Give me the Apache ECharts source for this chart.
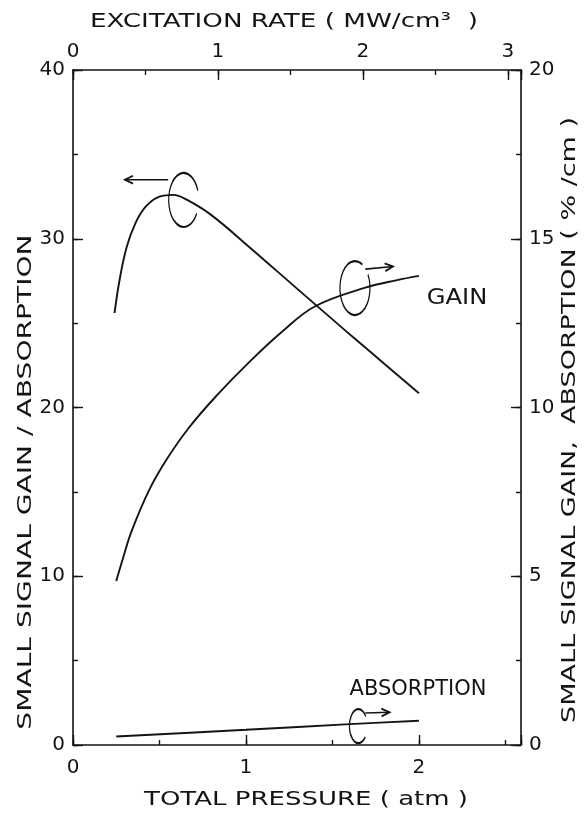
<!DOCTYPE html>
<html>
<head>
<meta charset="utf-8">
<script src="https://cdn.jsdelivr.net/npm/echarts@6/dist/echarts.min.js"></script>
<style>
  html, body { margin: 0; padding: 0; background: #fff; }
  #chart { width: 584px; height: 813px; }
</style>
</head>
<body>
<div id="chart"></div>
<script>
// Gain / absorption ratio vs total pressure (left axis)
const ratioPressure = [0.24, 0.27, 0.31, 0.36, 0.42, 0.50, 0.58, 0.66, 0.80, 1.02, 1.30, 1.57, 1.69, 2.00];
const ratioValues   = [25.6, 27.6, 29.5, 30.9, 31.9, 32.5, 32.6, 32.3, 31.4, 29.5, 27.0, 24.6, 23.55, 20.85];

// Small signal gain, %/cm (right axis)
const gainPressure = [0.25, 0.29, 0.34, 0.44, 0.54, 0.67, 0.83, 1.02, 1.21, 1.40, 1.69, 1.88, 2.00];
const gainValues   = [4.86, 5.55, 6.35, 7.55, 8.45, 9.40, 10.35, 11.35, 12.25, 13.0, 13.55, 13.78, 13.9];

// Absorption, %/cm (right axis)
const absPressure = [0.25, 1.00, 1.60, 2.00];
const absValues   = [0.25, 0.45, 0.62, 0.72];

// Axis ranges
const pressureMax = 2.59;     // atm
const excitationMax = 3.09;   // MW/cm3
const ratioMax = 40;
const percentMax = 20;

const pressureTitle = 'TOTAL PRESSURE ( atm )';
const excitationTitle = 'EXCITATION RATE ( MW/cm\u00B3  )';
const leftTitle = 'SMALL SIGNAL GAIN / ABSORPTION';
const rightTitle = 'SMALL SIGNAL GAIN,  ABSORPTION ( % /cm )';

const ink = '#141414';
const FONT = '"DejaVu Sans", "Liberation Sans", sans-serif';

const chart = echarts.init(document.getElementById('chart'), null, { renderer: 'canvas' });

function stepLabel(step) {
  return function (v) {
    const k = v / step;
    return Math.abs(k - Math.round(k)) < 1e-6 ? String(Math.round(v * 100) / 100) : '';
  };
}
function pairs(xs, ys) { return xs.map((x, i) => [x, ys[i]]); }

const labelStyle = { color: ink, fontFamily: FONT, fontSize: 20 };

function mainAxis(cfg) {
  return Object.assign({
    type: 'value',
    splitLine: { show: false },
    axisLine: { show: true, onZero: false, lineStyle: { color: ink, width: 1.6 } },
    axisTick: { show: true, inside: true, length: 5, lineStyle: { color: ink, width: 1.4 } }
  }, cfg, {
    axisLabel: Object.assign({ showMinLabel: true, showMaxLabel: true }, labelStyle, cfg.axisLabel || {})
  });
}
function tickAxis(cfg) {
  return Object.assign({
    type: 'value',
    splitLine: { show: false },
    axisLine: { show: false, onZero: false },
    axisTick: { show: true, inside: true, length: 10, lineStyle: { color: ink, width: 1.4 } },
    axisLabel: { show: false }
  }, cfg);
}

const option = {
  animation: false,
  backgroundColor: '#ffffff',
  grid: { left: 73, right: 63, top: 70, bottom: 68, containLabel: false },
  xAxis: [
    mainAxis({ position: 'bottom', min: 0, max: pressureMax, interval: 0.5,
               axisLabel: { formatter: stepLabel(1), margin: 13 } }),
    tickAxis({ position: 'bottom', min: 0, max: pressureMax, interval: 1 }),
    mainAxis({ position: 'top', min: 0, max: excitationMax, interval: 0.5,
               axisLabel: { formatter: stepLabel(1), margin: 8 } }),
    tickAxis({ position: 'top', min: 0, max: excitationMax, interval: 1 })
  ],
  yAxis: [
    mainAxis({ position: 'left', min: 0, max: ratioMax, interval: 5,
               axisLabel: { formatter: stepLabel(10), margin: 8 } }),
    tickAxis({ position: 'left', min: 0, max: ratioMax, interval: 10 }),
    mainAxis({ position: 'right', min: 0, max: percentMax, interval: 2.5,
               axisLabel: { formatter: stepLabel(5), margin: 8 } }),
    tickAxis({ position: 'right', min: 0, max: percentMax, interval: 5 })
  ],
  series: [
    { name: 'ratio', type: 'line', xAxisIndex: 0, yAxisIndex: 0, data: pairs(ratioPressure, ratioValues),
      smooth: 0.4, showSymbol: false, silent: true, lineStyle: { color: ink, width: 1.9 } },
    { name: 'gain', type: 'line', xAxisIndex: 0, yAxisIndex: 2, data: pairs(gainPressure, gainValues),
      smooth: 0.4, showSymbol: false, silent: true, lineStyle: { color: ink, width: 1.9 } },
    { name: 'absorption', type: 'line', xAxisIndex: 0, yAxisIndex: 2, data: pairs(absPressure, absValues),
      smooth: 0.3, showSymbol: false, silent: true, lineStyle: { color: ink, width: 1.9 } }
  ]
};
chart.setOption(option);

// ---- titles and curve annotations -------------------------------------
const toLeft = (p, v) => chart.convertToPixel({ xAxisIndex: 0, yAxisIndex: 0 }, [p, v]);
const toRight = (p, v) => chart.convertToPixel({ xAxisIndex: 0, yAxisIndex: 2 }, [p, v]);

function label(text, x, y, size, opts) {
  opts = opts || {};
  return {
    type: 'text', x: x, y: y, rotation: opts.rotation || 0,
    scaleX: opts.stretch || 1, silent: true,
    style: { text: text, fill: ink, font: size + 'px ' + FONT,
             align: 'center', verticalAlign: 'middle', textAlign: 'center', textVerticalAlign: 'middle' }
  };
}
// open loop drawn round a curve (gap given in degrees, screen clockwise)
function loop(c, rx, ry, gapFrom, gapTo) {
  return {
    type: 'arc', x: c[0], y: c[1], scaleX: rx / ry, silent: true,
    shape: { cx: 0, cy: 0, r: ry, startAngle: gapTo * Math.PI / 180, endAngle: (gapFrom + 360) * Math.PI / 180, clockwise: true },
    style: { stroke: ink, lineWidth: 2.2, fill: null }
  };
}
function arrow(a, b) {
  const ang = Math.atan2(b[1] - a[1], b[0] - a[0]);
  const h = 9, w = 0.45;
  const p1 = [b[0] - h * Math.cos(ang - w), b[1] - h * Math.sin(ang - w)];
  const p2 = [b[0] - h * Math.cos(ang + w), b[1] - h * Math.sin(ang + w)];
  return [
    { type: 'line', silent: true, shape: { x1: a[0], y1: a[1], x2: b[0], y2: b[1] }, style: { stroke: ink, lineWidth: 1.6 } },
    { type: 'polyline', silent: true, shape: { points: [p1, b, p2] }, style: { stroke: ink, lineWidth: 1.8, fill: null } }
  ];
}

const graphics = [
  label(excitationTitle, 284, 22, 20, { stretch: 1.31 }),
  label(pressureTitle, 306, 800, 20, { stretch: 1.30 }),
  label(leftTitle, 26, 482, 19, { rotation: Math.PI / 2, stretch: 1.48 }),
  label(rightTitle, 570, 420, 19, { rotation: Math.PI / 2, stretch: 1.42 })
];

// ratio curve marker, pointing to the left axis
graphics.push(loop(toLeft(0.64, 32.3), 15, 27, -20, 30));
graphics.push(...arrow(toLeft(0.55, 33.5), toLeft(0.30, 33.5)));
// gain curve marker, pointing to the right axis
graphics.push(loop(toRight(1.63, 13.54), 15, 27, -60, -30));
graphics.push(...arrow(toRight(1.69, 14.10), toRight(1.85, 14.18)));
graphics.push(label('GAIN', 457, 298, 22, { stretch: 1.1 }));
// absorption curve marker
graphics.push(loop(toRight(1.65, 0.56), 9, 17, -35, 40));
graphics.push(...arrow(toRight(1.69, 0.95), toRight(1.83, 0.97)));
graphics.push(label('ABSORPTION', 418, 690, 21));

chart.setOption({ graphic: { elements: graphics } });
</script>
</body>
</html>
